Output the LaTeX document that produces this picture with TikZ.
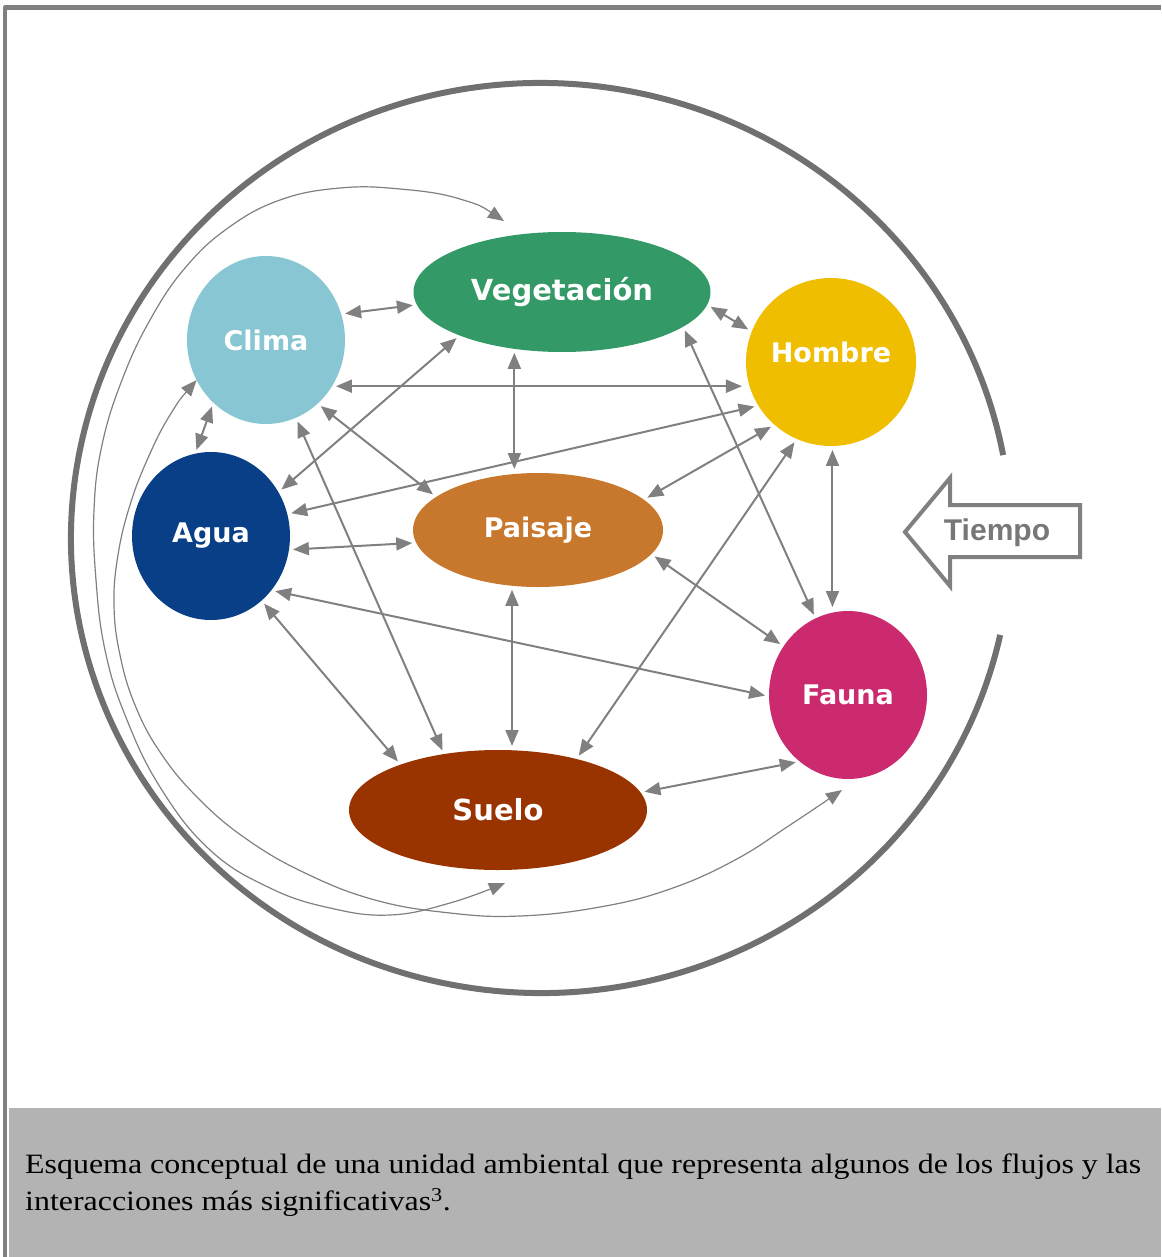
\documentclass[tikz,border=0pt]{standalone}
\usepackage{fontspec}
\setmainfont{Liberation Serif}
\setsansfont{DejaVu Sans}
\newfontfamily\tiempofont{Liberation Sans}
\newfontfamily\captionfont{Liberation Serif}[FakeStretch=1.14]
\usepackage{tikz}
\usetikzlibrary{arrows.meta,shapes.geometric,calc}
\definecolor{vegcol}{HTML}{339966}
\definecolor{climacol}{HTML}{88C6D3}
\definecolor{hombrecol}{HTML}{F0BE00}
\definecolor{aguacol}{HTML}{083F86}
\definecolor{paisajecol}{HTML}{C8782C}
\definecolor{faunacol}{HTML}{CC2A6E}
\definecolor{suelocol}{HTML}{993300}
\definecolor{linkgray}{HTML}{808080}
\definecolor{ringgray}{HTML}{707070}
\definecolor{tiempogray}{HTML}{777777}
\definecolor{capgray}{HTML}{B3B3B3}

\begin{document}
\begin{tikzpicture}[x=1pt, y=-1pt, line join=round,
  >={Triangle[length=16pt,width=13pt]},
  blob/.style={ellipse, inner sep=0pt, outer sep=0pt, text=white,
    minimum width=158pt, minimum height=168pt,
    font=\sffamily\bfseries\fontsize{27}{30}\selectfont},
  link/.style={<->, draw=linkgray, line width=2pt, shorten <=4pt, shorten >=4pt},
  orbit/.style={<->, draw=linkgray, line width=1.2pt}]
\useasboundingbox (0,0) rectangle (1161,1257);

% frame and caption
\fill[capgray] (9,1108) rectangle (1161,1257);
\draw[linkgray, line width=4.5pt] (1161,7.5) -- (5,7.5) -- (5,1257);
\node[anchor=north west, align=left, inner sep=0pt,
  font=\captionfont\fontsize{28}{37}\selectfont] (caption) at (25,1154)
  {Esquema conceptual de una unidad ambiental que representa algunos de los flujos y las\\
   interacciones más significativas\textsuperscript{3}.};

% ring and time arrow
\draw[ringgray, line width=6pt] (541,538) ++(12.3:470 and 455)
  arc[start angle=12.3, end angle=349.5, x radius=470, y radius=455];
\draw[linkgray, line width=4pt, line join=miter]
  (1080,505) -- (950,505) -- (950,478) -- (905,532) -- (950,586) -- (950,557) -- (1080,557) -- cycle;
\node[text=tiempogray, font=\tiempofont\bfseries\fontsize{30}{30}\selectfont] (tiempo) at (997,533) {Tiempo};

% elements
\node[blob, fill=vegcol, minimum width=297pt, minimum height=120pt,
  font=\sffamily\bfseries\fontsize{29}{30}\selectfont] (veg) at (562,292) {Vegetación};
\node[blob, fill=climacol] (clima) at (266,340) {Clima};
\node[blob, fill=hombrecol, text height=20pt, text depth=20pt] (hombre) at (831,362) {Hombre};
\node[blob, fill=aguacol] (agua) at (211,536) {Agua};
\node[blob, fill=paisajecol, minimum width=250pt, minimum height=114pt] (paisaje) at (538,530) {Paisaje};
\node[blob, fill=faunacol] (fauna) at (848,695) {Fauna};
\node[blob, fill=suelocol, minimum width=298pt, minimum height=120pt,
  font=\sffamily\bfseries\fontsize{29}{30}\selectfont] (suelo) at (498,810) {Suelo};

% interactions
\draw[link] (clima.19) -- (veg.-175);
\draw[link] (clima.-35) -- (clima.-35 -| hombre.west);
\draw[link] (clima.-130) -- (agua.101);
\draw[link] (clima.-51) -- (paisaje.162);
\draw[link] (clima.-69) -- (suelo.134);
\draw[link] (veg.-5) -- (hombre.159);
\draw[link] (veg.-130) -- (veg.-130 |- paisaje.north);
\draw[link] (veg.-157) -- (agua.33);
\draw[link] (veg.-16) -- (fauna.113);
\draw[link] (hombre.-149) -- (agua.16);
\draw[link] (hombre.-132) -- (paisaje.16);
\draw[link] (hombre.-114) -- (suelo.33);
\draw[link] (hombre.-89) -- (hombre.-89 |- fauna.north);
\draw[link] (agua.-10) -- (paisaje.-174);
\draw[link] (agua.-42) -- (fauna.-179);
\draw[link] (agua.-52) -- (suelo.155);
\draw[link] (paisaje.-115) -- (paisaje.-115 |- suelo.north);
\draw[link] (paisaje.-12) -- (fauna.143);
\draw[link] (suelo.7) -- (fauna.-126);

% long loops round the left side
\draw[orbit] plot[smooth, tension=0.7] coordinates {($(veg.north)+(-58,-11)$)
  (460,199) (400,189) (340,188) (280,200) (228,228) (185,268) (150,320) (122,380)
  (102,445) (94,510) (96,580) (105,650) (125,715) (160,787) (210,850) (270,888)
  (330,908) (390,915) (450,903) ($(suelo.south)+(7,13)$)};
\draw[orbit] plot[smooth, tension=0.7] coordinates {(clima.-150)
  (170,415) (148,458) (130,505) (118,555) (114,605) (120,655) (135,705) (160,752)
  (197,797) (245,838) (305,873) (375,900) (450,913) (520,916) (600,907) (670,889)
  (735,860) (790,825) ($(fauna.south)+(-6,11)$)};
\end{tikzpicture}
\end{document}
